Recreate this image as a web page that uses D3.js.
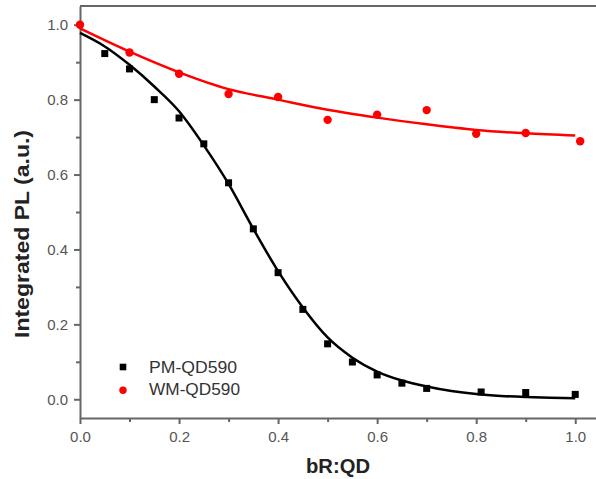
<!DOCTYPE html>
<html>
<head>
<meta charset="utf-8">
<script src="https://cdn.jsdelivr.net/npm/d3@7"></script>
<style>
  body { margin: 0; background: #fff; }
  text { font-family: "Liberation Sans", Arial, sans-serif; }
</style>
</head>
<body>
<div id="chart"></div>
<script>
// data
var pmX = [0.05, 0.1, 0.15, 0.2, 0.25, 0.3, 0.35, 0.4, 0.45, 0.5, 0.55, 0.6, 0.65, 0.7, 0.81, 0.9, 1.0];
var pmY = [0.923, 0.882, 0.80, 0.751, 0.682, 0.578, 0.455, 0.338, 0.24, 0.148, 0.0995, 0.065, 0.043, 0.029, 0.0195, 0.018, 0.013];

var wmX = [0.0, 0.1, 0.2, 0.3, 0.4, 0.5, 0.6, 0.7, 0.8, 0.9, 1.01];
var wmY = [1.0, 0.926, 0.869, 0.815, 0.807, 0.746, 0.760, 0.772, 0.709, 0.711, 0.689];

// fitted curves
var pmFitX = [0, 0.05, 0.1, 0.15, 0.2, 0.25, 0.3, 0.35, 0.4, 0.45, 0.5, 0.55, 0.6, 0.65, 0.7, 0.75, 0.8, 0.85, 0.9, 0.95, 1.0];
var pmFitY = [0.978, 0.942, 0.893, 0.835, 0.769, 0.678, 0.575, 0.455, 0.342, 0.245, 0.165, 0.111, 0.074, 0.050, 0.034, 0.022, 0.014, 0.009, 0.006, 0.004, 0.003];

var wmFitX = [0, 0.1, 0.2, 0.3, 0.4, 0.5, 0.6, 0.7, 0.8, 0.9, 1.0];
var wmFitY = [0.99, 0.928, 0.873, 0.828, 0.800, 0.773, 0.752, 0.734, 0.719, 0.710, 0.704];

var xMajor = [0.0, 0.2, 0.4, 0.6, 0.8, 1.0];
var xMinor = [0.1, 0.3, 0.5, 0.7, 0.9];
var yMajor = [0.0, 0.2, 0.4, 0.6, 0.8, 1.0];
var yMinor = [0.1, 0.3, 0.5, 0.7, 0.9];

var seriesNames = ["PM-QD590", "WM-QD590"];

var svgWidth = 596;
var svgHeight = 479;

var svg = d3.select("#chart")
  .append("svg")
  .attr("width", svgWidth)
  .attr("height", svgHeight);

// plot frame runs off the right edge, like the picture
var margin = { left: 80, top: 6, right: 600, bottom: 418 };

var x = d3.scaleLinear().domain([0, 1.05]).range([margin.left, margin.right]);
var y = d3.scaleLinear().domain([-0.05, 1.05]).range([margin.bottom, margin.top]);

var axisColor = "#666";
var labelColor = "#555";

// frame top / right
svg.append("path")
  .attr("d", `M${margin.left},${margin.top}H${margin.right}V${margin.bottom}`)
  .attr("fill", "none")
  .attr("stroke", axisColor)
  .attr("stroke-width", 2);

// axes
svg.append("g")
  .attr("transform", `translate(0, ${margin.bottom})`)
  .call(d3.axisBottom(x).tickValues(xMajor).tickSize(6).tickPadding(7).tickSizeOuter(0).tickFormat(d3.format(".1f")));

svg.append("g")
  .attr("transform", `translate(0, ${margin.bottom})`)
  .call(d3.axisBottom(x).tickValues(xMinor).tickSize(4).tickSizeOuter(0).tickFormat(""))
  .select(".domain").remove();

svg.append("g")
  .attr("transform", `translate(${margin.left}, 0)`)
  .call(d3.axisLeft(y).tickValues(yMajor).tickSize(6).tickPadding(6).tickSizeOuter(0).tickFormat(d3.format(".1f")));

svg.append("g")
  .attr("transform", `translate(${margin.left}, 0)`)
  .call(d3.axisLeft(y).tickValues(yMinor).tickSize(4).tickSizeOuter(0).tickFormat(""))
  .select(".domain").remove();

svg.selectAll(".domain, .tick line")
  .attr("stroke", axisColor)
  .attr("stroke-width", 2);

svg.selectAll(".tick text")
  .attr("fill", labelColor)
  .style("font-size", "15px");

// fit lines
var line = d3.line()
  .x(d => x(d[0]))
  .y(d => y(d[1]))
  .curve(d3.curveMonotoneX);

svg.append("path")
  .datum(d3.zip(pmFitX, pmFitY))
  .attr("d", line)
  .attr("fill", "none")
  .attr("stroke", "#000")
  .attr("stroke-width", 2.5);

svg.append("path")
  .datum(d3.zip(wmFitX, wmFitY))
  .attr("d", line)
  .attr("fill", "none")
  .attr("stroke", "#ff0000")
  .attr("stroke-width", 2.5);

// markers
var sq = 7;
svg.selectAll("rect.pm")
  .data(d3.zip(pmX, pmY))
  .enter()
  .append("rect")
  .attr("class", "pm")
  .attr("x", d => x(d[0]) - sq / 2)
  .attr("y", d => y(d[1]) - sq / 2)
  .attr("width", sq)
  .attr("height", sq)
  .attr("fill", "#000");

svg.selectAll("circle.wm")
  .data(d3.zip(wmX, wmY))
  .enter()
  .append("circle")
  .attr("class", "wm")
  .attr("cx", d => x(d[0]))
  .attr("cy", d => y(d[1]))
  .attr("r", 4.2)
  .attr("fill", "#ff0000");

// legend
var legend = svg.append("g").attr("transform", "translate(123, 367)");
legend.append("rect")
  .attr("x", -3.3).attr("y", -3.3)
  .attr("width", 6.6).attr("height", 6.6)
  .attr("fill", "#000");
legend.append("circle")
  .attr("cx", 0).attr("cy", 23.3)
  .attr("r", 3.7)
  .attr("fill", "#ff0000");
legend.selectAll("text")
  .data(seriesNames)
  .enter()
  .append("text")
  .attr("x", 26)
  .attr("y", (d, i) => 6 + i * 22.3)
  .attr("textLength", (d, i) => i === 0 ? 88 : 91)
  .attr("lengthAdjust", "spacingAndGlyphs")
  .attr("fill", "#333")
  .style("font-size", "16px")
  .text(d => d);

// axis titles
svg.append("text")
  .attr("x", 338)
  .attr("y", 473)
  .attr("text-anchor", "middle")
  .attr("textLength", 64)
  .attr("lengthAdjust", "spacingAndGlyphs")
  .attr("fill", "#222")
  .style("font-size", "19.5px")
  .style("font-weight", "bold")
  .text("bR:QD");

svg.append("text")
  .attr("transform", "translate(28.5, 234) rotate(-90)")
  .attr("text-anchor", "middle")
  .attr("textLength", 208)
  .attr("lengthAdjust", "spacingAndGlyphs")
  .attr("fill", "#222")
  .style("font-size", "19.5px")
  .style("font-weight", "bold")
  .text("Integrated PL (a.u.)");
</script>
</body>
</html>
